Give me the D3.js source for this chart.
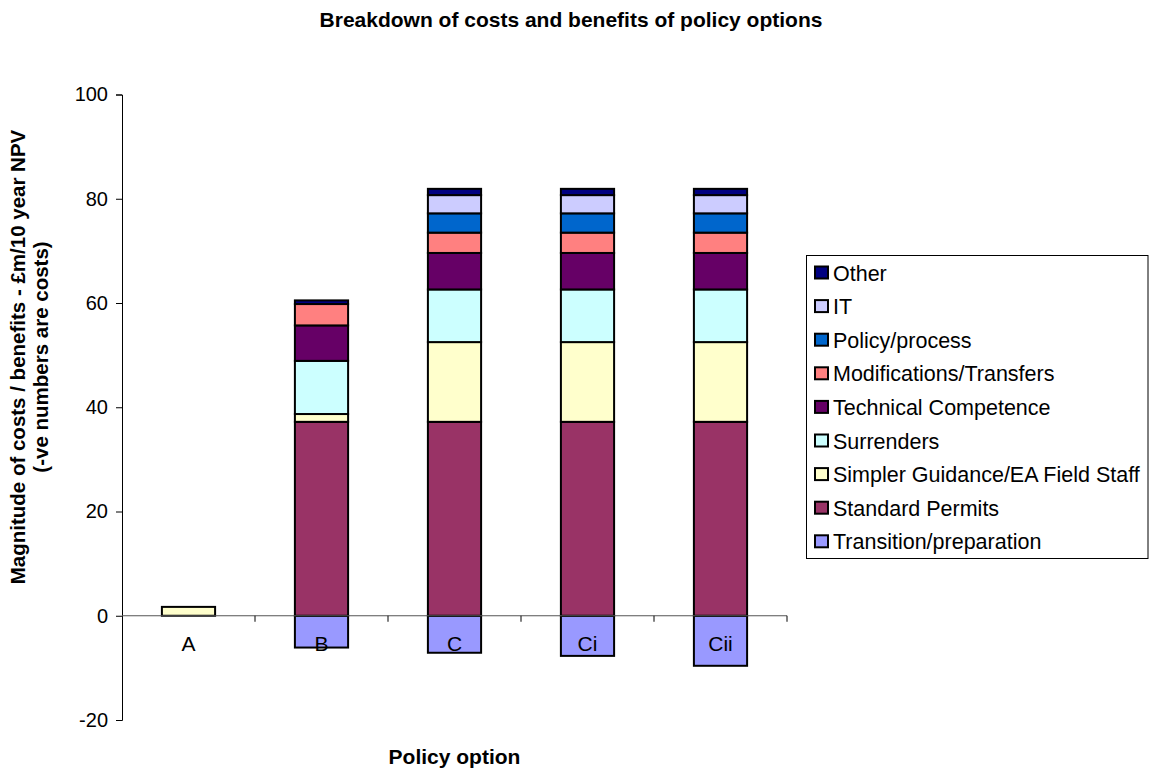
<!DOCTYPE html>
<html>
<head>
<meta charset="utf-8">
<script src="https://cdn.jsdelivr.net/npm/d3@7"></script>
<style>
  body { margin: 0; background: #fff; }
  svg { display: block; font-family: Arial, "Liberation Sans", sans-serif; }
</style>
</head>
<body>
<svg id="chart" width="1156" height="772"></svg>
<script>
// Policy options along the x axis
const options = ["A", "B", "C", "Ci", "Cii"];

// Cost / benefit components (£m, 10 year NPV), stacked bottom to top
const seriesNames = [
  "Transition/preparation",
  "Standard Permits",
  "Simpler Guidance/EA Field Staff",
  "Surrenders",
  "Technical Competence",
  "Modifications/Transfers",
  "Policy/process",
  "IT",
  "Other"
];
const transition  = [0,   -6.1, -7.1, -7.7, -9.6];
const standard    = [0,   37.2, 37.2, 37.2, 37.2];
const simpler     = [1.7,  1.5, 15.3, 15.3, 15.3];
const surrenders  = [0,   10.2, 10.1, 10.1, 10.1];
const technical   = [0,    6.8,  7.0,  7.0,  7.0];
const mods        = [0,    4.1,  3.9,  3.9,  3.9];
const policy      = [0,    0,    3.7,  3.7,  3.7];
const it          = [0,    0,    3.5,  3.5,  3.5];
const other       = [0,    0.7,  1.2,  1.2,  1.2];
const seriesValues = [transition, standard, simpler, surrenders, technical, mods, policy, it, other];

const colors = ["#9999FF", "#993366", "#FFFFCC", "#CCFFFF", "#660066", "#FF8080", "#0066CC", "#CCCCFF", "#000080"];

const yTicks = [-20, 0, 20, 40, 60, 80, 100];

const svg = d3.select("#chart");
const plot = { left: 122, right: 787, top: 94.5, bottom: 720 };

const x = d3.scaleBand().domain(options).range([plot.left, plot.right]).paddingInner(0.6).paddingOuter(0.3);
const xOuter = d3.scaleBand().domain(options).range([plot.left, plot.right]);
const y = d3.scaleLinear().domain([-20, 100]).range([plot.bottom, plot.top]);

// Title
svg.append("text")
  .attr("x", 571).attr("y", 27)
  .attr("text-anchor", "middle")
  .attr("font-size", 21).attr("font-weight", "bold")
  .text("Breakdown of costs and benefits of policy options");

// Y axis
const yAxis = svg.append("g")
  .attr("transform", `translate(${plot.left},0)`)
  .call(d3.axisLeft(y).tickValues(yTicks).tickSize(6).tickPadding(8).tickFormat(d3.format("d")));
yAxis.select(".domain").attr("stroke", "#000");
yAxis.selectAll(".tick line").attr("stroke", "#000");
yAxis.selectAll(".tick text").attr("font-size", 20).attr("fill", "#000")
  .attr("font-family", "Arial, 'Liberation Sans', sans-serif")
  .text(d => d < 0 ? "-" + Math.abs(d) : d);

// Bars: stacked segments, positives upward, negatives downward
const bars = svg.append("g");
options.forEach((opt, i) => {
  let pos = 0, neg = 0;
  seriesValues.forEach((vals, s) => {
    const v = vals[i];
    if (v === 0) return;
    let y0, y1;
    if (v > 0) { y0 = pos; y1 = pos + v; pos = y1; }
    else { y0 = neg; y1 = neg + v; neg = y1; }
    bars.append("rect")
      .attr("x", x(opt))
      .attr("width", x.bandwidth())
      .attr("y", y(Math.max(y0, y1)))
      .attr("height", Math.abs(y(y0) - y(y1)))
      .attr("fill", colors[s])
      .attr("stroke", "#000")
      .attr("stroke-width", 2);
  });
});

// X axis along zero line with category boundary ticks
const xg = svg.append("g");
xg.append("line")
  .attr("x1", plot.left).attr("x2", plot.right)
  .attr("y1", y(0)).attr("y2", y(0))
  .attr("stroke", "#555").attr("stroke-width", 1);
options.forEach(opt => {
  const bx = xOuter(opt) + xOuter.bandwidth();
  xg.append("line")
    .attr("x1", bx).attr("x2", bx)
    .attr("y1", y(0)).attr("y2", y(0) + 6)
    .attr("stroke", "#000");
  xg.append("text")
    .attr("x", xOuter(opt) + xOuter.bandwidth() / 2)
    .attr("y", y(0) + 35)
    .attr("text-anchor", "middle")
    .attr("font-size", 21)
    .text(opt);
});

// Axis titles
svg.append("text")
  .attr("x", (plot.left + plot.right) / 2).attr("y", 764)
  .attr("text-anchor", "middle")
  .attr("font-size", 21).attr("font-weight", "bold")
  .text("Policy option");

const yt = svg.append("text")
  .attr("transform", "translate(25,357) rotate(-90)")
  .attr("text-anchor", "middle")
  .attr("font-size", 20.5).attr("font-weight", "bold");
yt.append("tspan").attr("x", 0).attr("dy", 0).text("Magnitude of costs / benefits - £m/10 year NPV");
yt.append("tspan").attr("x", 0).attr("dy", 23).text("(-ve numbers are costs)");

// Legend (top item is the last series)
const legend = svg.append("g");
legend.append("rect")
  .attr("x", 806.5).attr("y", 255.5).attr("width", 341.5).attr("height", 303)
  .attr("fill", "#fff").attr("stroke", "#000").attr("stroke-width", 1);
const legendOrder = d3.range(seriesNames.length).reverse();
legendOrder.forEach((s, k) => {
  const cy = 272.5 + k * 33.6;
  legend.append("rect")
    .attr("x", 815).attr("y", cy - 6).attr("width", 13).attr("height", 12)
    .attr("fill", colors[s]).attr("stroke", "#000").attr("stroke-width", 2);
  legend.append("text")
    .attr("x", 833).attr("y", cy + 8)
    .attr("font-size", 21.5)
    .text(seriesNames[s]);
});
</script>
</body>
</html>
